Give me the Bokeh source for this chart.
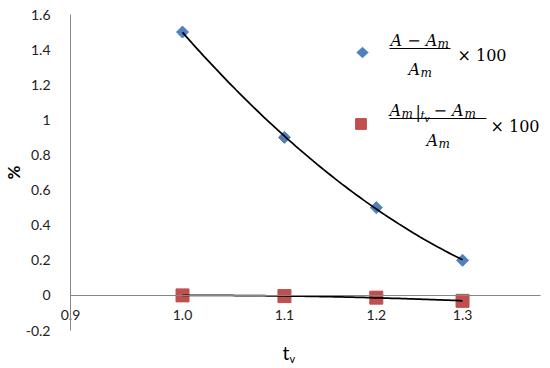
import math
import numpy as np
from bokeh.plotting import figure
from bokeh.models import (Range1d, FixedTicker, CustomJSTickFormatter, Legend,
                          LegendItem, Label, Arrow, PolyAnnotation)
from bokeh.core.properties import value
from bokeh.embed import file_html
from bokeh.resources import INLINE

# ---- data ----
t_v = [1.0, 1.091, 1.173, 1.25]
t_v_labels = ["1.0", "1.1", "1.2", "1.3"]
rel_diff = [1.5, 0.9, 0.5, 0.2]            # (A - Am)/Am * 100
tv_diff = [0.0, -0.004, -0.013, -0.031]     # (Am|tv - Am)/Am * 100
y_ticks = [-0.2, 0.0, 0.2, 0.4, 0.6, 0.8, 1.0, 1.2, 1.4, 1.6]

BLUE = "#4F81BD"
RED = "#C0504D"
AXIS = "#868686"
FONT = "Lato"
MATH = "DejaVu Serif"

XMIN, XMAX = 0.9, 1.3196
YMIN, YMAX = -0.2, 1.6
FL, FR, FT, FB = 70, 540, 14, 330   # axis extents in page px
W, H = 550, 368

# page px -> data helpers (for layout of annotations only)
def X(px):
    return XMIN + (px - FL) * (XMAX - XMIN) / (FR - FL)

def Y(py):
    return YMAX - (py - FT) * (YMAX - YMIN) / (FB - FT)

p = figure(width=W, height=H, output_backend="svg", toolbar_location=None,
           x_range=Range1d(X(0), X(W)), y_range=Range1d(Y(H), Y(0)),
           min_border_left=0, min_border_right=0, min_border_top=0, min_border_bottom=0)
p.outline_line_color = None
p.grid.visible = False
p.background_fill_color = "white"

# ---- axes ----
xa = p.xaxis[0]
xa.fixed_location = 0
xa.bounds = (XMIN, XMAX)
xa.ticker = FixedTicker(ticks=[0.9] + t_v)
xa.formatter = CustomJSTickFormatter(
    args=dict(tpos=[0.9] + t_v, tlab=["0.9"] + t_v_labels),
    code="""
for (let i = 0; i < tpos.length; i++) {
  if (Math.abs(tick - tpos[i]) < 1e-6) return tlab[i];
}
return '';
""")
xa.axis_line_color = AXIS
xa.major_tick_line_color = None
xa.minor_tick_line_color = None
xa.major_label_standoff = 9
xa.major_label_text_font = FONT
xa.major_label_text_font_size = "14px"
xa.major_label_text_color = "#222222"

ya = p.yaxis[0]
ya.fixed_location = XMIN
ya.bounds = (YMIN, YMAX)
ya.ticker = FixedTicker(ticks=y_ticks)
ya.formatter = CustomJSTickFormatter(code="return Number(tick.toFixed(1)).toString();")
ya.axis_line_color = AXIS
ya.major_tick_line_color = None
ya.minor_tick_line_color = None
ya.major_label_standoff = 14
ya.major_label_text_font = FONT
ya.major_label_text_font_size = "14px"
ya.major_label_text_color = "#222222"

# ---- markers ----
r_blue = p.scatter(t_v, rel_diff, marker="square", size=8.5, angle=math.pi / 4,
                   fill_color=BLUE, line_color=BLUE)
r_red = p.scatter(t_v, tv_diff, marker="square", size=13,
                  fill_color=RED, line_color=RED)

# ---- trend lines (polynomial fits of the data) ----
xs = np.linspace(min(t_v), max(t_v), 80)
p.line(xs, np.polyval(np.polyfit(t_v, rel_diff, 2), xs), line_color="black", line_width=1.75)
p.line(xs, np.polyval(np.polyfit(t_v, tv_diff, 2), xs), line_color="black", line_width=1.75)

# ---- legend keys ----
# blue diamond key (legend glyphs ignore marker angle, so draw the key shape)
cx, cy, hw, hh = 362, 52, 6, 5.5
p.add_layout(PolyAnnotation(xs=[X(cx - hw), X(cx), X(cx + hw), X(cx)],
                            ys=[Y(cy), Y(cy - hh), Y(cy), Y(cy + hh)],
                            fill_color=BLUE, fill_alpha=1, line_color=BLUE, line_width=1))
# red square key via legend
box = 27
lg = Legend(items=[LegendItem(label=value(""), renderers=[r_red])],
            location=(360 - box / 2, H - (123 + box / 2)),
            glyph_width=box, glyph_height=box, label_height=box, label_width=0,
            label_standoff=0, padding=0, margin=0, spacing=0,
            border_line_alpha=0, background_fill_alpha=0)
p.add_layout(lg, "center")

# ---- legend formula texts ----
def txt(s, px, py, size, style="italic", align="left", font=MATH, angle=0.0,
        bold=False, baseline="alphabetic"):
    lab = Label(x=X(px), y=Y(py), text=s, text_font=font, text_font_size=f"{size}px",
                text_font_style=("bold" if bold else style), text_align=align,
                text_baseline=baseline, text_color="black", angle=angle)
    p.add_layout(lab)

def bar(px0, px1, py):
    p.add_layout(Arrow(start=None, end=None, x_start=X(px0), y_start=Y(py),
                       x_end=X(px1), y_end=Y(py), line_color="black", line_width=1))

# fraction 1
txt("A − A", 390, 40, 16)
txt("m", 437, 43, 12)
bar(389, 450, 48)
txt("A", 408, 69, 16)
txt("m", 420, 72, 12)
txt("× 100", 457, 55, 16, style="normal")

# fraction 2
txt("A", 389, 110, 16)
txt("m", 401, 113, 12)
txt("|", 415, 112, 16, style="normal")
txt("t", 420, 115, 11)
txt("v", 424, 118, 9)
txt("− A", 433, 110, 16)
txt("m", 464, 113, 12)
bar(389, 486, 118)
txt("A", 426, 140, 16)
txt("m", 438, 143, 12)
txt("× 100", 490, 126, 16, style="normal")

# ---- axis titles ----
txt("t", 282, 352, 19, style="normal", font=FONT, baseline="middle")
txt("v", 289, 358, 11, style="normal", font=FONT, baseline="middle")
txt("%", 13, 172, 17, align="center", font=FONT, angle=math.pi / 2, bold=True,
    baseline="middle")

open("out.html", "w").write(file_html(p, INLINE))
